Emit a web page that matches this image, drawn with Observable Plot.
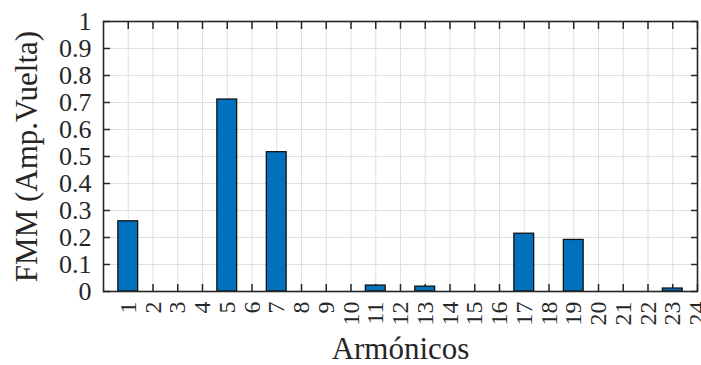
<!DOCTYPE html>
<html>
<head>
<meta charset="utf-8">
<script src="https://cdn.jsdelivr.net/npm/d3@7"></script>
<script src="https://cdn.jsdelivr.net/npm/@observablehq/plot@0.6"></script>
<style>
  html, body { margin: 0; padding: 0; background: #fff; }
  #chart svg { display: block; }
  #chart svg text { font-family: 'Liberation Serif', 'Times New Roman', serif; }
</style>
</head>
<body>
<div id="chart"></div>
<script>
// Harmonic orders (categories)
const harmonics = [1,2,3,4,5,6,7,8,9,10,11,12,13,14,15,16,17,18,19,20,21,22,23,24];
// FMM amplitude per harmonic (Amp.Vuelta)
const fmm = [0.26,0,0,0,0.711,0,0.516,0,0,0,0.022,0,0.018,0,0,0,0.214,0,0.191,0,0,0,0.011,0];
// Tick values
const xTicks = [1,2,3,4,5,6,7,8,9,10,11,12,13,14,15,16,17,18,19,20,21,22,23,24];
const yTicks = [0,0.1,0.2,0.3,0.4,0.5,0.6,0.7,0.8,0.9,1];
const xLabel = "Armónicos";
const yLabel = "FMM (Amp.Vuelta)";

const data = harmonics.map((h, i) => ({h, v: fmm[i]}));

const font = "'Liberation Serif', 'Times New Roman', serif";
const axisColor = "#262626";
const gridColor = "#dfdfdf";
const barFill = "#0072BD";
const barWidth = 0.8;

const chart = Plot.plot({
  width: 701,
  height: 365,
  marginLeft: 103,
  marginRight: 4,
  marginTop: 21,
  marginBottom: 74,
  style: {fontFamily: font, color: axisColor, background: "#fff"},
  x: {domain: [0, 24]},
  y: {domain: [0, 1]},
  marks: [
    Plot.gridX({ticks: xTicks, stroke: gridColor, strokeOpacity: 1, strokeWidth: 1}),
    Plot.gridY({ticks: yTicks, stroke: gridColor, strokeOpacity: 1, strokeWidth: 1}),
    // inward tick marks on all four sides
    Plot.axisX({anchor: "bottom", ticks: xTicks, tickSize: -7, tickFormat: () => "", label: null, stroke: axisColor, strokeWidth: 1.5}),
    Plot.axisX({anchor: "top", ticks: xTicks, tickSize: -7, tickFormat: () => "", label: null, stroke: axisColor, strokeWidth: 1.5}),
    Plot.axisY({anchor: "left", ticks: yTicks, tickSize: -7, tickFormat: () => "", label: null, stroke: axisColor, strokeWidth: 1.5}),
    Plot.axisY({anchor: "right", ticks: yTicks, tickSize: -7, tickFormat: () => "", label: null, stroke: axisColor, strokeWidth: 1.5}),
    Plot.rectY(data.filter(d => d.v > 0), {
      x1: d => d.h - barWidth / 2,
      x2: d => d.h + barWidth / 2,
      y1: 0,
      y2: "v",
      fill: barFill,
      stroke: "#111",
      strokeWidth: 1.3
    }),
    Plot.frame({stroke: axisColor, strokeWidth: 1.6}),
    // y tick labels
    Plot.text(yTicks, {
      y: d => d,
      frameAnchor: "left",
      textAnchor: "end",
      dx: -12,
      text: d => d3.format("~g")(d),
      fontSize: 26,
      fontFamily: font,
      fill: axisColor
    }),
    // x tick labels (rotated)
    Plot.text(xTicks, {
      x: d => d,
      frameAnchor: "bottom",
      rotate: -90,
      textAnchor: "end",
      lineAnchor: "middle",
      dy: 10,
      text: d => String(d),
      fontSize: 24,
      fontFamily: font,
      fill: axisColor
    }),
    Plot.text([yLabel], {
      frameAnchor: "left",
      rotate: -90,
      dx: -76,
      textAnchor: "middle",
      lineAnchor: "middle",
      text: d => d,
      fontSize: 31,
      fontFamily: font,
      fill: axisColor
    }),
    Plot.text([xLabel], {
      frameAnchor: "bottom",
      dy: 58,
      textAnchor: "middle",
      lineAnchor: "middle",
      text: d => d,
      fontSize: 31,
      fontFamily: font,
      fill: axisColor
    })
  ]
});

document.getElementById("chart").appendChild(chart);
</script>
</body>
</html>
